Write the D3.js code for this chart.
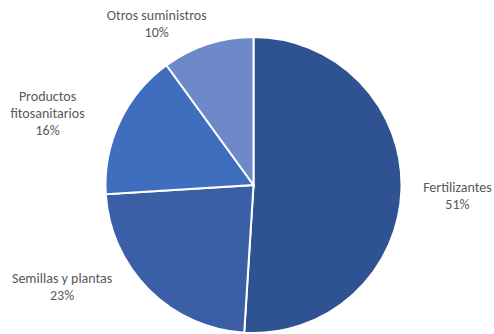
<!DOCTYPE html>
<meta charset="utf-8">
<style>
body { margin: 0; background: #fff; }
.lbl {
  font: 14px Carlito, Calibri, Lato, sans-serif;
  fill: #595959;
}
</style>
<svg width="494" height="334"></svg>
<script src="https://d3js.org/d3.v7.min.js"></script>
<script>

var categories = ["Fertilizantes", "Semillas y plantas", "Productos fitosanitarios", "Otros suministros"];
var values = [51, 23, 16, 10];
var colors = ["#2f5292", "#3a5fa7", "#406ebf", "#6e89ca"];
// label lines (Excel wraps "Productos fitosanitarios")
var labelLines = [["Fertilizantes"], ["Semillas y plantas"], ["Productos", "fitosanitarios"], ["Otros suministros"]];
// nudges from the label-arc centroid, px
var nudge = [[4, 5], [-50, -39], [-25, 13.5], [-35, 29.5]];

var svg = d3.select("svg"),
    cx = 253.5, cy = 185,
    radius = 148,
    labelR = 200,
    lh = 17;

var data = categories.map(function(c, i) { return {name: c, value: values[i], i: i}; });

var pie = d3.pie()
    .sort(null)
    .value(function(d) { return d.value; });

var arc = d3.arc().innerRadius(0).outerRadius(radius);
var labelArc = d3.arc().innerRadius(labelR).outerRadius(labelR);

var g = svg.append("g")
    .attr("transform", "translate(" + cx + "," + cy + ")");

var arcs = pie(data);

g.selectAll("path")
  .data(arcs)
  .enter().append("path")
    .attr("d", arc)
    .attr("fill", function(d) { return colors[d.data.i]; })
    .attr("stroke", "#fff")
    .attr("stroke-width", 2)
    .attr("stroke-linejoin", "miter");

var labels = g.selectAll("text")
  .data(arcs)
  .enter().append("text")
    .attr("class", "lbl")
    .attr("text-anchor", "middle");

labels.each(function(d) {
  var i = d.data.i;
  var c = labelArc.centroid(d);
  var x = c[0] + nudge[i][0], y = c[1] + nudge[i][1];
  var lines = labelLines[i].concat([d.data.value + "%"]);
  var n = lines.length;
  var t = d3.select(this);
  lines.forEach(function(s, k) {
    t.append("tspan")
      .attr("x", x)
      .attr("y", y + (k - (n - 1) / 2) * lh + 4.5)
      .text(s);
  });
});

</script>
